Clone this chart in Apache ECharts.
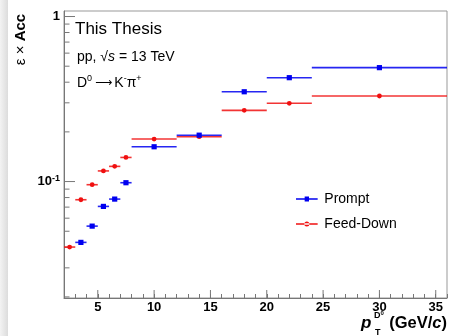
<!DOCTYPE html>
<html><head><meta charset="utf-8">
<script src="https://cdn.jsdelivr.net/npm/echarts@6/dist/echarts.min.js"></script>
<style>html,body{margin:0;padding:0;background:#fff}#c{width:452px;height:336px}</style>
</head><body><div id="c"></div>
<script>
// ---- data ----
const binLow  = [2, 3, 4, 5, 6, 7, 8, 12, 16, 20, 24];
const binHigh = [3, 4, 5, 6, 7, 8, 12, 16, 20, 24, 36];
const promptValues   = [null, 0.0428, 0.0537, 0.0707, 0.0783, 0.0984, 0.1625, 0.191, 0.350, 0.426, 0.490];
const feedDownValues = [0.0401, 0.0776, 0.0957, 0.116, 0.1236, 0.140, 0.181, 0.187, 0.270, 0.298, 0.330];
const xMajorTicks = [5, 10, 15, 20, 25, 30, 35];
const yMajorTicks = [0.1, 1];
const yMinorTicks = [0.02, 0.03, 0.04, 0.05, 0.06, 0.07, 0.08, 0.09, 0.2, 0.3, 0.4, 0.5, 0.6, 0.7, 0.8, 0.9];
const X_MIN = 2, X_MAX = 36, Y_MIN = 0.0197, Y_MAX = 1.08;

const FONT = '"Liberation Sans", Arial, Helvetica, sans-serif';
const chart = echarts.init(document.getElementById('c'), null, {renderer: 'canvas'});

function binData(vals) {
  return binLow.map((lo, i) => [lo, binHigh[i], vals[i]]).filter(d => d[2] != null);
}
function makeRender(shape) {
  return function (params, api) {
    const lo = api.value(0), hi = api.value(1), y = api.value(2);
    const p0 = api.coord([lo, y]);
    const p1 = api.coord([hi, y]);
    const pc = api.coord([(lo + hi) / 2, y]);
    const color = api.visual('color');
    const marker = shape === 'square'
      ? {type: 'rect', shape: {x: pc[0] - 2.6, y: pc[1] - 2.6, width: 5.2, height: 5.2}, style: {fill: color}}
      : {type: 'circle', shape: {cx: pc[0], cy: pc[1], r: 2.4}, style: {fill: color}};
    return {type: 'group', children: [
      {type: 'line', shape: {x1: p0[0], y1: p0[1], x2: p1[0], y2: p1[1]}, style: {stroke: color, lineWidth: 1.6, opacity: 0.85}},
      marker
    ]};
  };
}
function tickRender(len, dir) {
  return function (params, api) {
    const p = api.coord([api.value(0), api.value(1)]);
    const x2 = dir === 'right' ? p[0] + len : p[0];
    const y2 = dir === 'up' ? p[1] - len : p[1];
    return {type: 'line', shape: {x1: p[0], y1: p[1], x2: x2, y2: y2}, style: {stroke: '#777', lineWidth: 1}};
  };
}
function isPow10(v) { const l = Math.log10(v); return Math.abs(l - Math.round(l)) < 1e-6; }

const squareIcon = 'path://M0,2.1H26V3.9H0Z M10.4,0H15.6V6H10.4Z';
const circleIcon = 'path://M0,2.2H26V3.8H0Z M10,3a3,3 0 1,0 6,0a3,3 0 1,0 -6,0Z';

chart.setOption({
  animation: false,
  backgroundColor: '#fff',
  grid: {left: 64, right: 5, top: 11, bottom: 38, show: true, borderColor: '#999', borderWidth: 1, outerBoundsMode: 'none'},
  xAxis: {
    type: 'value', min: X_MIN, max: X_MAX, interval: 1,
    axisLine: {show: true, lineStyle: {color: '#777'}},
    axisTick: {show: true, inside: true, length: 4, lineStyle: {color: '#777'}},
    splitLine: {show: false},
    axisLabel: {
      margin: 3, color: '#000', fontFamily: FONT, fontWeight: 'bold', fontSize: 13,
      formatter: v => (xMajorTicks.indexOf(v) >= 0 ? String(v) : '')
    }
  },
  yAxis: {
    type: 'log', logBase: 10, min: Y_MIN, max: Y_MAX,
    axisLine: {show: true, lineStyle: {color: '#777'}},
    axisTick: {show: false},
    splitLine: {show: false},
    axisLabel: {
      margin: 4, color: '#000', fontFamily: FONT, fontWeight: 'bold', fontSize: 13,
      showMinLabel: false, showMaxLabel: false,
      formatter: v => {
        if (!isPow10(v)) return '';
        const e = Math.round(Math.log10(v));
        if (e === 0) return '{b|1}';
        return '{b|10}{s|' + e + '}';
      },
      rich: {
        b: {fontFamily: FONT, fontWeight: 'bold', fontSize: 13, lineHeight: 16},
        s: {fontFamily: FONT, fontWeight: 'bold', fontSize: 9, verticalAlign: 'top', lineHeight: 9}
      }
    }
  },
  legend: {
    orient: 'vertical', left: 291, top: 186, itemWidth: 25, itemHeight: 5, itemGap: 9,
    textStyle: {fontFamily: FONT, fontSize: 14, color: '#000', lineHeight: 16},
    itemStyle: {borderWidth: 0},
    data: [{name: 'Prompt', icon: squareIcon}, {name: 'Feed-Down', icon: circleIcon}]
  },
  series: [
    {name: 'Feed-Down', type: 'custom', coordinateSystem: 'cartesian2d', itemStyle: {color: '#f01010'},
     encode: {x: [0, 1], y: 2}, renderItem: makeRender('circle'), data: binData(feedDownValues), z: 3},
    {name: 'Prompt', type: 'custom', coordinateSystem: 'cartesian2d', itemStyle: {color: '#0000f0'},
     encode: {x: [0, 1], y: 2}, renderItem: makeRender('square'), data: binData(promptValues), z: 4},
    {name: 'xMajorTicks', type: 'custom', silent: true, renderItem: tickRender(8, 'up'),
     data: xMajorTicks.map(v => [v, Y_MIN]), z: 2},
    {name: 'yMajorTicks', type: 'custom', silent: true, renderItem: tickRender(11, 'right'),
     data: yMajorTicks.map(v => [X_MIN, v]), z: 2},
    {name: 'yMinorTicks', type: 'custom', silent: true, renderItem: tickRender(5.5, 'right'),
     data: yMinorTicks.map(v => [X_MIN, v]), z: 2}
  ],
  graphic: [
    {type: 'rect', left: 0, top: 0, z: 0, shape: {width: 8, height: 336},
     style: {fill: new echarts.graphic.LinearGradient(0, 0, 1, 0, [{offset: 0, color: '#f3f3f3'}, {offset: 1, color: '#dcdcdc'}])}},
    {type: 'text', x: 75, y: 29, style: {text: 'This Thesis', font: '17px ' + FONT, fill: '#000', verticalAlign: 'middle'}},
    {type: 'text', x: 77, y: 57, style: {
      text: '{n|pp, √}{i|s}{n| = 13 TeV}', verticalAlign: 'middle', fill: '#000',
      rich: {n: {fontFamily: FONT, fontSize: 14}, i: {fontFamily: FONT, fontSize: 14, fontStyle: 'italic'}}}},
    {type: 'text', x: 77, y: 83, style: {
      text: '{n|D}{s|0}{a|⟶}{n|K}{s|-}{n|π}{s|+}', verticalAlign: 'middle', fill: '#000',
      rich: {
        n: {fontFamily: FONT, fontSize: 14, lineHeight: 18},
        a: {fontFamily: '"DejaVu Sans", sans-serif', fontSize: 12, lineHeight: 18, padding: [0, 2, 0, 3]},
        s: {fontFamily: FONT, fontSize: 9, verticalAlign: 'top', lineHeight: 9}}}},
    {type: 'text', x: 21, y: 39.5, rotation: Math.PI / 2, style: {
      text: '{n|ε × }{b|Acc}', align: 'center', verticalAlign: 'middle', fill: '#000',
      rich: {n: {fontFamily: FONT, fontSize: 15}, b: {fontFamily: FONT, fontSize: 15, fontWeight: 'bold'}}}},
    {type: 'text', x: 447, y: 323, style: {
      text: '{b|(GeV/}{i|c}{b|)}', align: 'right', verticalAlign: 'middle', fill: '#000',
      rich: {b: {fontFamily: FONT, fontSize: 16.5, fontWeight: 'bold'}, i: {fontFamily: FONT, fontSize: 16.5, fontWeight: 'bold', fontStyle: 'italic'}}}},
    {type: 'text', x: 361, y: 323, style: {text: 'p', font: 'italic bold 17px ' + FONT, fill: '#000', verticalAlign: 'middle'}},
    {type: 'text', x: 374, y: 315.5, style: {
      text: '{d|D}{z|0}', verticalAlign: 'middle', fill: '#000',
      rich: {d: {fontFamily: FONT, fontSize: 9, fontWeight: 'bold', lineHeight: 10}, z: {fontFamily: FONT, fontSize: 6, fontWeight: 'bold', verticalAlign: 'top', lineHeight: 6}}}},
    {type: 'text', x: 375, y: 333, style: {text: 'T', font: 'bold 9px ' + FONT, fill: '#000', verticalAlign: 'middle'}}
  ]
});
</script>
</body></html>
